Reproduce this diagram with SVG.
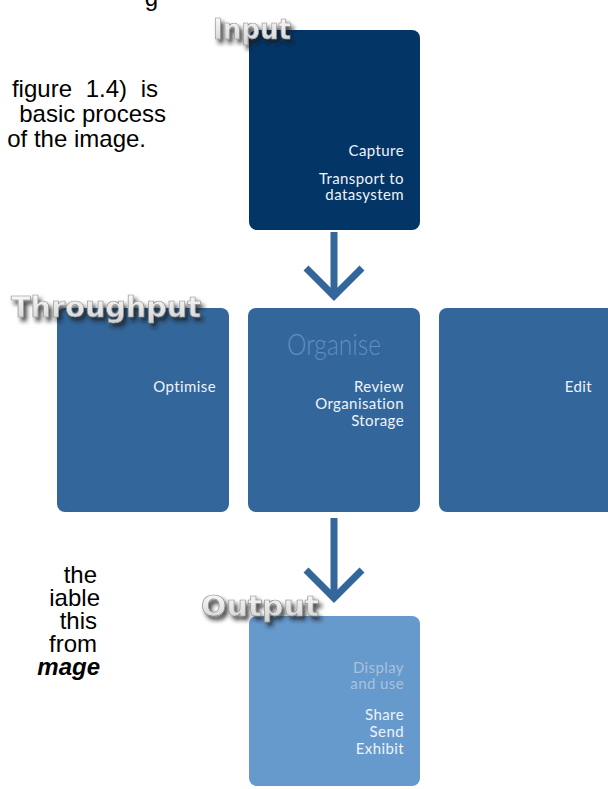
<svg xmlns="http://www.w3.org/2000/svg" width="608" height="789" viewBox="0 0 608 789">
<defs>
<style>
.body{font-family:"Liberation Sans",Arial,sans-serif;font-size:24px;fill:#000;text-anchor:end;}
.lbl{font-family:"DejaVu Sans",sans-serif;font-weight:bold;fill:url(#lg);stroke:#8a8a8a;stroke-width:0.6;filter:url(#emb);}
.t{font-family:Lato,"Open Sans",sans-serif;font-size:15px;letter-spacing:0.4px;fill:#eef3f9;text-anchor:end;}
.dim{fill:#a9c1dc;}
.arrow{fill:none;stroke:#33669a;stroke-width:7;}
</style>
<linearGradient id="lg" x1="0" y1="0" x2="0" y2="1">
<stop offset="0" stop-color="#ffffff"/>
<stop offset="1" stop-color="#cfcfcf"/>
</linearGradient>
<filter id="emb" x="-10%" y="-30%" width="130%" height="190%">
<feGaussianBlur in="SourceAlpha" stdDeviation="2"/>
<feOffset dx="3" dy="4" result="b"/>
<feFlood flood-color="#1a1a1a" flood-opacity="0.8"/>
<feComposite in2="b" operator="in" result="s"/>
<feMerge><feMergeNode in="s"/><feMergeNode in="SourceGraphic"/></feMerge>
</filter>
</defs>
<rect width="608" height="789" fill="#ffffff"/>
<g id="bodytext" class="body">
<text x="158" y="6">g</text>
<text x="158" y="97" word-spacing="7">figure 1.4) is</text>
<text x="166" y="122">basic process</text>
<text x="146" y="147">of the image.</text>
<text x="97" y="583">the</text>
<text x="100" y="606">iable</text>
<text x="97" y="629">this</text>
<text x="97" y="652">from</text>
<text x="100" y="675" font-weight="bold" font-style="italic">mage</text>
</g>
<g id="connectors">
<line class="arrow" x1="334" y1="232" x2="334" y2="296"/>
<polyline class="arrow" points="306,268 334,296 362,268"/>
<line class="arrow" x1="334" y1="518" x2="334" y2="598"/>
<polyline class="arrow" points="306,570 334,598 362,570"/>
</g>
<g id="input">
<rect x="249" y="30" width="171" height="200" rx="8" fill="#033567"/>
<text class="t" x="404" y="156">Capture</text>
<text class="t" x="404" y="184">Transport to</text>
<text class="t" x="404" y="200">datasystem</text>
</g>
<g id="optimise">
<rect x="57" y="308" width="172" height="204" rx="8" fill="#33669a"/>
<text class="t" x="216" y="392">Optimise</text>
</g>
<g id="organise">
<rect x="248" y="308" width="172" height="204" rx="8" fill="#33669a"/>
<text x="334" y="355" text-anchor="middle" font-family="Lato,sans-serif" font-weight="300" font-size="30" fill="#5f8fc3" textLength="94" lengthAdjust="spacingAndGlyphs">Organise</text>
<text class="t" x="404" y="392">Review</text>
<text class="t" x="404" y="409">Organisation</text>
<text class="t" x="404" y="426">Storage</text>
</g>
<g id="edit">
<rect x="439" y="308" width="180" height="204" rx="8" fill="#33669a"/>
<text class="t" x="592" y="392">Edit</text>
</g>
<g id="output">
<rect x="249" y="616" width="171" height="170" rx="8" fill="#6699cc"/>
<text class="t dim" x="404" y="673">Display</text>
<text class="t dim" x="404" y="689">and use</text>
<text class="t" x="404" y="720">Share</text>
<text class="t" x="404" y="737">Send</text>
<text class="t" x="404" y="754">Exhibit</text>
</g>
<g id="labels">
<text class="lbl" x="213" y="39" font-size="28" textLength="78" lengthAdjust="spacingAndGlyphs">Input</text>
<text class="lbl" x="11" y="317" font-size="28" textLength="190" lengthAdjust="spacingAndGlyphs">Throughput</text>
<text class="lbl" x="201" y="616" font-size="28" textLength="118" lengthAdjust="spacingAndGlyphs">Output</text>
</g>
</svg>
